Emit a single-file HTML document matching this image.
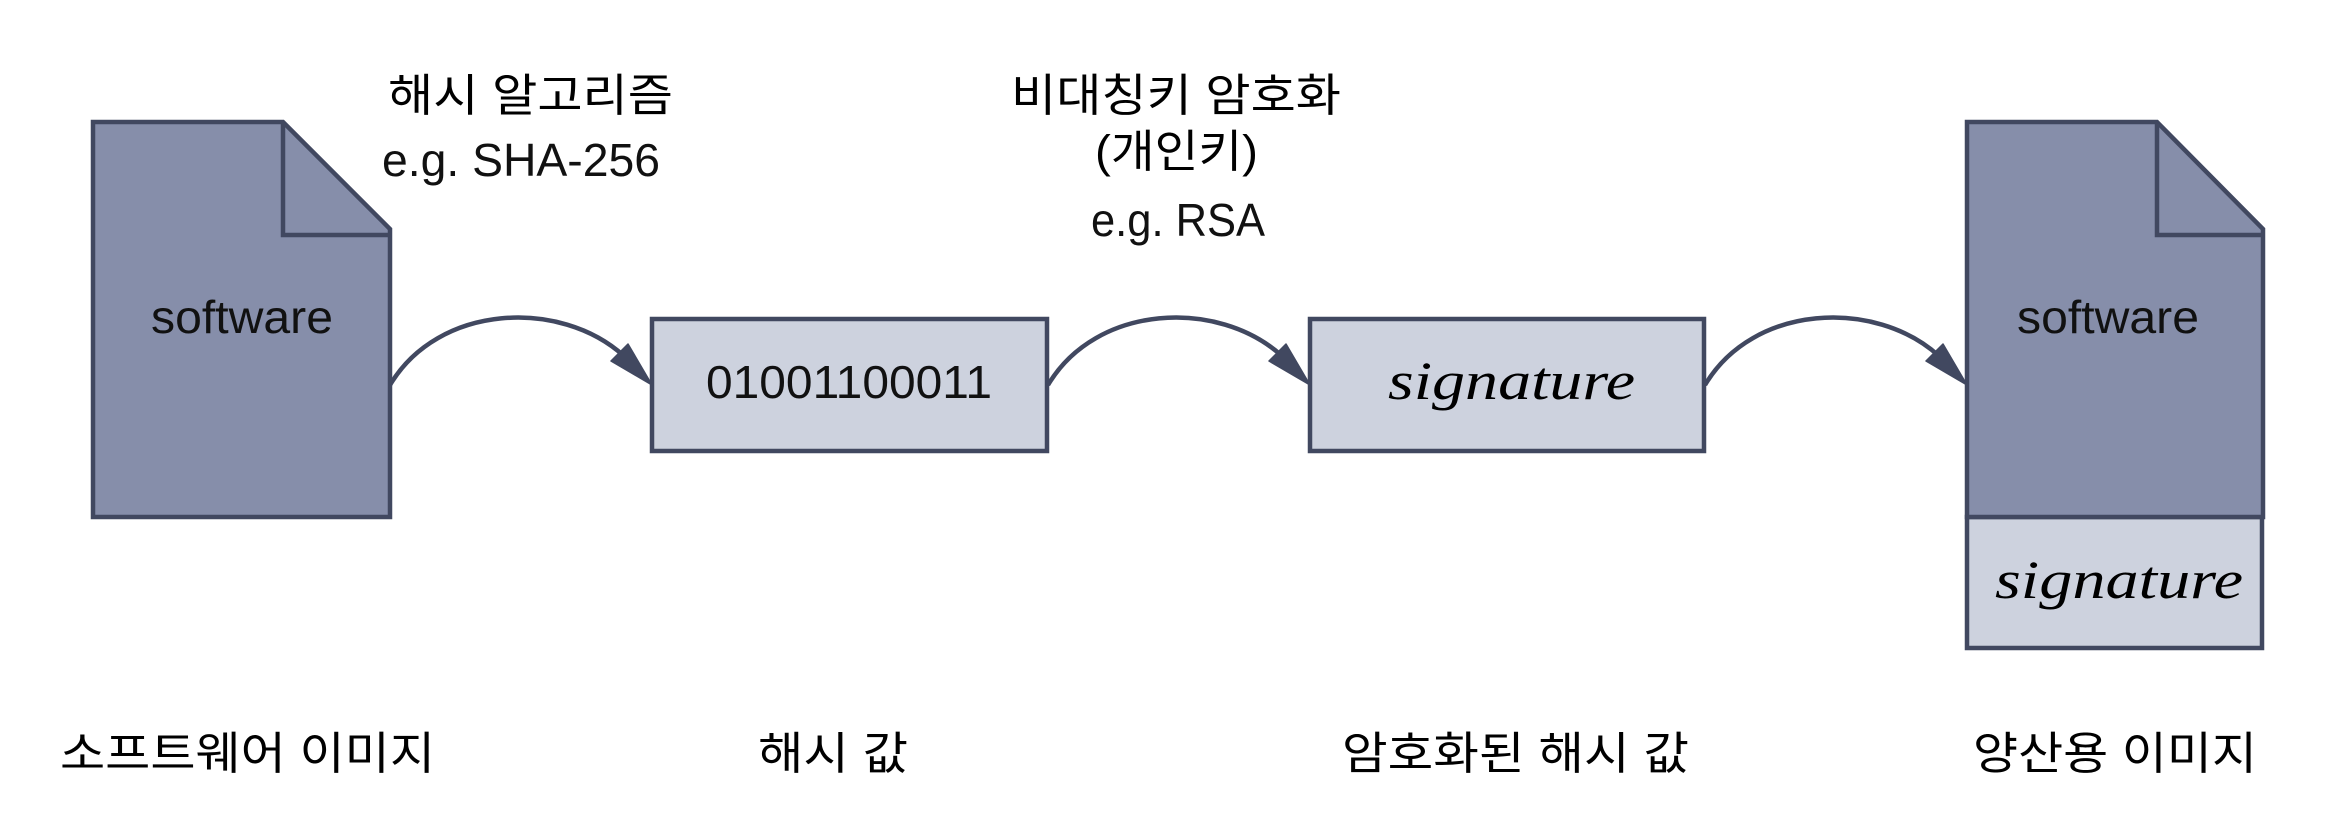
<!DOCTYPE html>
<html lang="ko"><head><meta charset="utf-8"><title>Code signing</title>
<style>
html,body{margin:0;padding:0;background:#fff;width:2330px;height:813px;overflow:hidden}
svg{display:block}
.k{font-family:"Liberation Sans","Noto Sans CJK KR",sans-serif;font-size:45px;fill:#000}
.l{font-family:"Liberation Sans","Noto Sans CJK KR",sans-serif;font-size:46px;fill:#111}
.s{font-family:"Liberation Serif",serif;font-style:italic;font-size:54px;fill:#000}
</style></head><body>
<svg width="2330" height="813" viewBox="0 0 2330 813" xmlns="http://www.w3.org/2000/svg">
<defs>
<g id="arrow">
<path d="M390 385C438 304 560 298 624 356" fill="none" stroke="#414860" stroke-width="4.5"/>
<polygon points="652,385 628,344 611,361" fill="#414860" stroke="#414860" stroke-width="1.5" stroke-linejoin="round"/>
</g>
</defs>
<g stroke="#414860" stroke-width="4.5" stroke-linejoin="miter">
<path d="M93 122H283L390 229V517H93Z" fill="#868eaa"/>
<path d="M283 122V235H390" fill="none"/>
<rect x="652" y="319" width="395" height="132" fill="#cdd2de"/>
<rect x="1310" y="319" width="394" height="132" fill="#cdd2de"/>
<rect x="1967" y="517" width="295" height="131" fill="#cdd2de"/>
<path d="M1967 122H2157L2263 229V517H1967Z" fill="#868eaa"/>
<path d="M2157 122V235H2263" fill="none"/>
</g>
<use href="#arrow"/>
<use href="#arrow" x="658"/>
<use href="#arrow" x="1315"/>
<text class="k" x="388" y="111" textLength="285" lengthAdjust="spacingAndGlyphs">해시 알고리즘</text>
<text class="l" x="382" y="176" textLength="278" lengthAdjust="spacingAndGlyphs">e.g. SHA-256</text>
<text class="k" x="1011" y="111" textLength="330" lengthAdjust="spacingAndGlyphs">비대칭키 암호화</text>
<text class="k" x="1095" y="167" textLength="163" lengthAdjust="spacingAndGlyphs">(개인키)</text>
<text class="l" x="1091" y="236" textLength="174" lengthAdjust="spacingAndGlyphs">e.g. RSA</text>
<text class="l" x="151" y="333" textLength="182" lengthAdjust="spacingAndGlyphs">software</text>
<text class="l" x="2017" y="333" textLength="182" lengthAdjust="spacingAndGlyphs">software</text>
<text class="l" x="706" y="398" textLength="286" lengthAdjust="spacingAndGlyphs">01001100011</text>
<text class="s" x="1388" y="399" textLength="247" lengthAdjust="spacingAndGlyphs">signature</text>
<text class="s" x="1995" y="598" textLength="248" lengthAdjust="spacingAndGlyphs">signature</text>
<text class="k" x="60" y="769" textLength="375" lengthAdjust="spacingAndGlyphs">소프트웨어 이미지</text>
<text class="k" x="758" y="769" textLength="150" lengthAdjust="spacingAndGlyphs">해시 값</text>
<text class="k" x="1342" y="769" textLength="347" lengthAdjust="spacingAndGlyphs">암호화된 해시 값</text>
<text class="k" x="1973" y="769" textLength="284" lengthAdjust="spacingAndGlyphs">양산용 이미지</text>
</svg>
</body></html>
